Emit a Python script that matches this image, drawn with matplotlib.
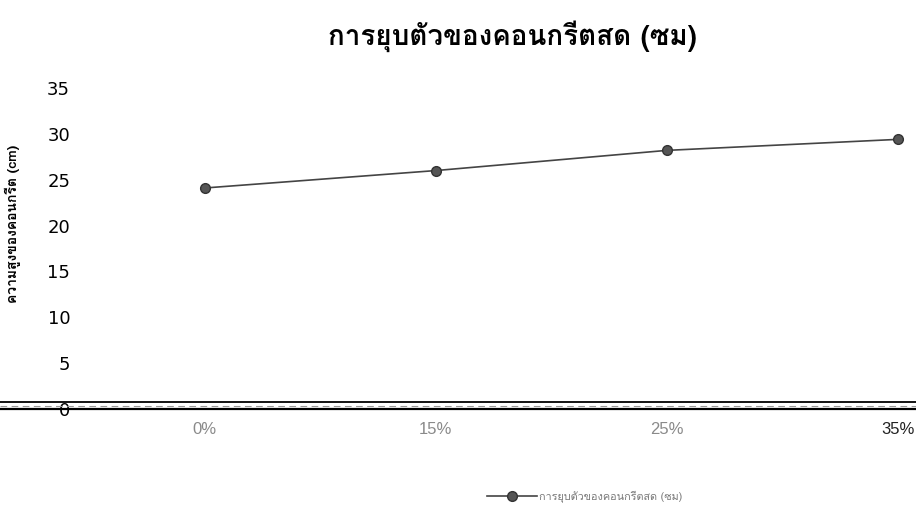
import matplotlib
matplotlib.use("Agg")
import matplotlib.pyplot as plt
from matplotlib.lines import Line2D
from matplotlib import transforms

# ความสูงของคอนกรีตตามสัดส่วนที่แทนที่
ratios = ["0%", "15%", "25%", "35%"]
slump = [24.1, 26.0, 28.2, 29.4]
yticks = [0, 5, 10, 15, 20, 25, 30, 35]

title = "การยุบตัวของคอนกรีตสด (ซม)"
ylabel = "ความสูงของคอนกรีต (cm)"
series = "การยุบตัวของคอนกรีตสด (ซม)"

thai = ["Loma", "DejaVu Sans"]

fig = plt.figure(figsize=(9.16, 5.18), dpi=100)
ax = fig.add_axes([0.0, 0.2104, 1.0, 0.6197])

x = list(range(len(ratios)))
ax.plot(x, slump, color="#444444", lw=1.2, marker="o", ms=7,
        mfc="#555555", mec="#333333", label=series)

ax.set_xlim(-0.887, 3.078)
ax.set_ylim(0, 35)

ax.set_yticks(yticks)
ax.set_yticklabels([str(v) for v in yticks], fontsize=13, family="DejaVu Sans")
ax.tick_params(axis="y", length=0, pad=-50.5)

ax.set_xticks(x)
ax.set_xticklabels(ratios, fontsize=12, family="Liberation Sans")
for lab in ax.get_xticklabels():
    lab.set_color("#8a8a8a")
ax.get_xticklabels()[-1].set_color("#222222")
ax.tick_params(axis="x", length=0, pad=9)

for s in ["top", "right", "left"]:
    ax.spines[s].set_visible(False)
ax.spines["bottom"].set_color("black")
ax.spines["bottom"].set_linewidth(1.6)

# เส้นแกนคู่
up = transforms.offset_copy(ax.transData, fig=fig, x=0, y=5.0, units="points")
ax.plot([-0.887, 3.078], [0, 0], color="black", lw=1.3, transform=up, clip_on=False)
mid = transforms.offset_copy(ax.transData, fig=fig, x=0, y=2.5, units="points")
ax.plot([-0.887, 3.078], [0, 0], color="#999999", lw=0.8, ls=(0, (6, 4)),
        transform=mid, clip_on=False)

fig.text(512 / 916, 1 - 36 / 518, title, ha="center", va="center",
         fontsize=20, fontweight="bold", family=thai)
fig.text(13 / 916, 1 - 224 / 518, ylabel, ha="center", va="center",
         rotation=90, fontsize=10, fontweight="bold", family=thai)

handle = Line2D([], [], color="#444444", lw=1.2, marker="o", ms=7,
                mfc="#555555", mec="#333333")
leg = fig.legend([handle], [series], loc="center",
                 bbox_to_anchor=(585 / 916, 1 - 497 / 518), frameon=False,
                 prop={"family": thai, "size": 7.8}, handlelength=4.6,
                 handletextpad=0.2)
for t in leg.get_texts():
    t.set_color("#777777")

fig.savefig("out.png", dpi=100)
